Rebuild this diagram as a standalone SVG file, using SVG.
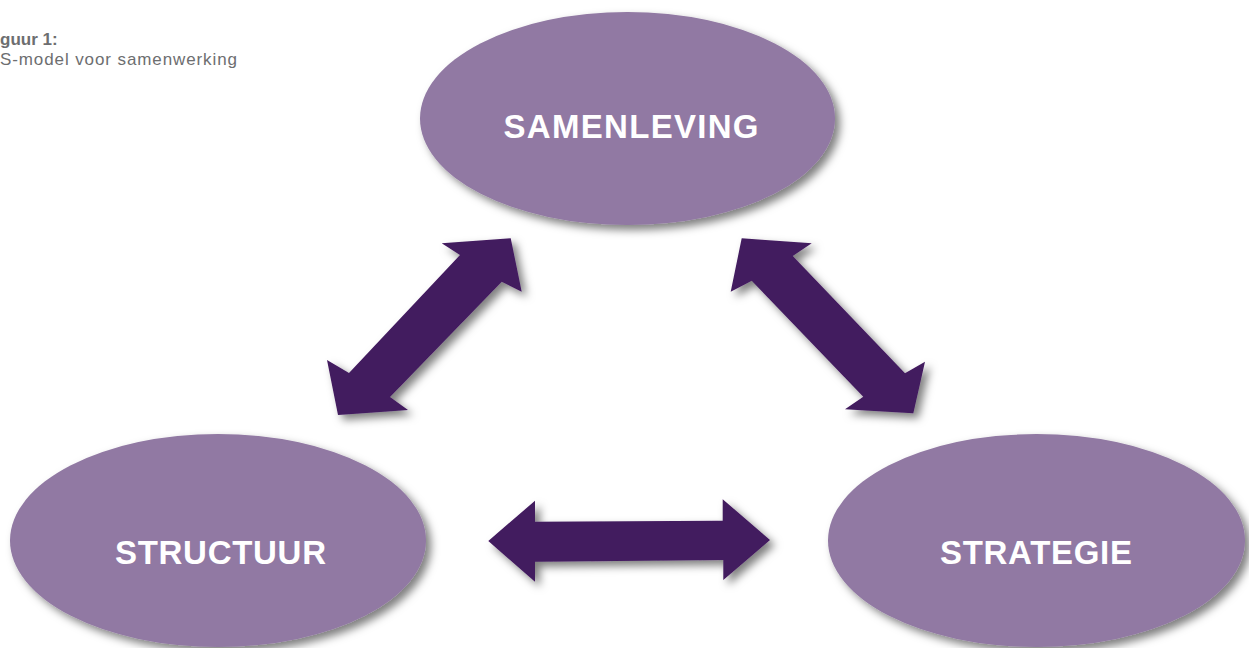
<svg xmlns="http://www.w3.org/2000/svg" width="1249" height="648" viewBox="0 0 1249 648">
<defs>
<filter id="sh" x="-20%" y="-20%" width="140%" height="140%">
<feDropShadow dx="5" dy="5" stdDeviation="4" flood-color="#000" flood-opacity="0.5"/>
</filter>
<style>
.node{fill:#9179a3;filter:url(#sh)}
.lbl{fill:#ffffff;font-family:"Liberation Sans",Arial,sans-serif;font-weight:bold;font-size:33px;text-anchor:middle}
.arr{fill:#421a5f;filter:url(#sh)}
.cap{fill:#6d6e70;font-family:"Liberation Sans",Arial,sans-serif;font-size:17px}
</style>
</defs>
<rect width="1249" height="648" fill="#ffffff"/>
<g id="caption">
<text class="cap" x="0" y="45" font-weight="bold">guur 1:</text>
<text class="cap" x="0" y="65" textLength="237" lengthAdjust="spacing">S-model voor samenwerking</text>
</g>
<g id="connectors">
<polygon class="arr" points="510.7,238.3 521.7,291.7 501.7,281.7 390,397 408,410 338,415 327,360 349,373 460,255 441.7,243.3"/>
<polygon class="arr" points="741.7,238.3 811.7,243.3 792.7,256 905,373.3 925,361.7 913.3,413.3 845,409.3 863.3,396.7 751.7,280.7 730.7,291.7"/>
<polygon class="arr" points="488.3,541 535,500.7 535,521.7 722.7,520.7 722.7,499.3 770,540 723.3,580 723.3,560 535,561.7 535,581.7"/>
</g>
<g id="samenleving">
<ellipse class="node" cx="627.5" cy="118.5" rx="207.5" ry="106.5"/>
<text class="lbl" x="631" y="138" textLength="255" lengthAdjust="spacing">SAMENLEVING</text>
</g>
<g id="structuur">
<ellipse class="node" cx="218" cy="540.5" rx="208" ry="106.5"/>
<text class="lbl" x="220.5" y="564" textLength="211" lengthAdjust="spacing">STRUCTUUR</text>
</g>
<g id="strategie">
<ellipse class="node" cx="1036.5" cy="540.5" rx="208.5" ry="106.5"/>
<text class="lbl" x="1036" y="564" textLength="192" lengthAdjust="spacing">STRATEGIE</text>
</g>
</svg>
